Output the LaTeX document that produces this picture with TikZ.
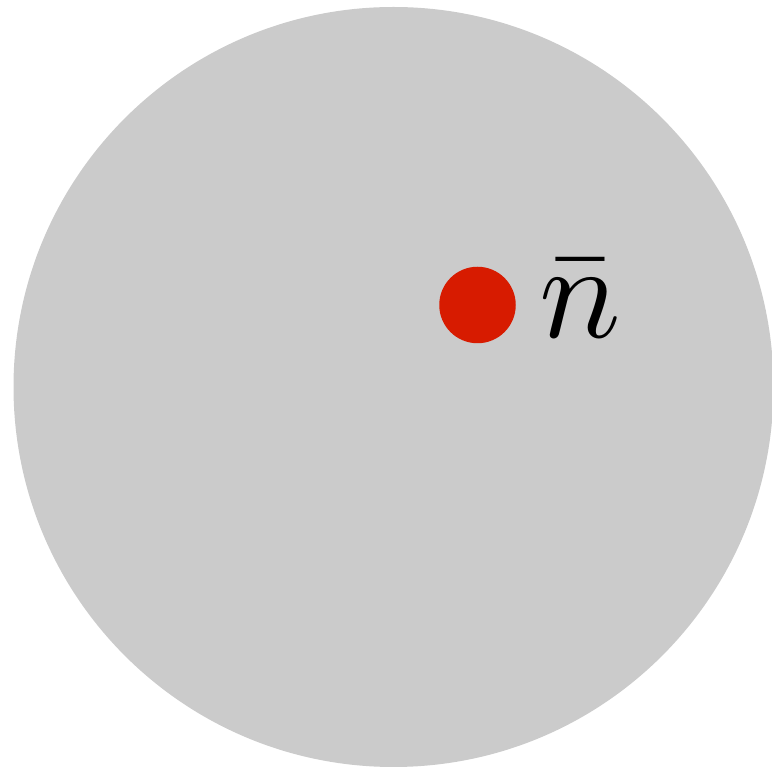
\documentclass[tikz,border=0pt]{standalone}
\usepackage{amsmath}
\usepackage{xcolor}
\usetikzlibrary{positioning}
\definecolor{diskgray}{RGB}{203,203,203}
\definecolor{dotred}{RGB}{215,27,0}
\begin{document}
\begin{tikzpicture}[
        x=1pt, y=1pt,
        disk/.style={circle, fill=diskgray, inner sep=0pt, minimum size=760pt},
        point/.style={circle, fill=dotred, inner sep=0pt, minimum size=76.5pt},
        lbl/.style={inner sep=0pt, scale=13.6}
    ]
    \useasboundingbox (0,0) rectangle (772,769);
    % --- DISCO ---
    \node [disk] (region) at (393.5,382) {};
    % --- PUNTO MEDIO ---
    \node [point] (mean) at (477.5,464) {};
    \node [lbl, anchor=base west] (meanlabel) at (537,431) {$\bar{n}$};
\end{tikzpicture}
\end{document}
